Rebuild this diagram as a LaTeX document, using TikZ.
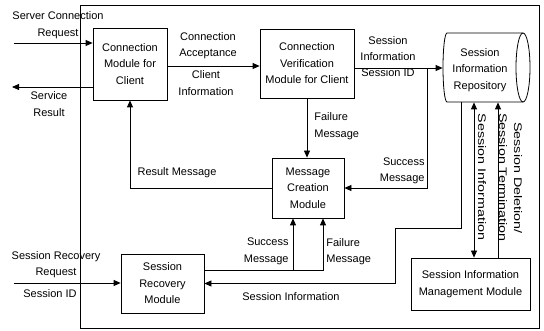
\documentclass[tikz,border=0pt]{standalone}
\usepackage{fontspec}
\setmainfont{Liberation Sans}
\usetikzlibrary{arrows.meta}
\newcommand\dfont{\fontsize{11}{16.5}\selectfont}
\begin{document}
\begin{tikzpicture}[x=1pt,y=-1pt, line width=0.8pt,
  box/.style={draw, rectangle, inner sep=0pt, align=center, font=\dfont},
  lbl/.style={inner sep=0pt, align=center, font=\dfont},
  arr/.style={-{Triangle[length=7pt,width=6pt]}},
  darr/.style={{Triangle[length=7pt,width=6pt]}-{Triangle[length=7pt,width=6pt]}}]
\useasboundingbox (0,0) rectangle (544,331);
% frame
\draw (80,5) rectangle (539,328);
% boxes
\node[box, minimum width=74pt, minimum height=72pt] (cm) at (130,64) {Connection\\Module for\\Client};
\node[box, minimum width=94pt, minimum height=69pt] (cv) at (307,63.5) {Connection\\Verification\\Module for Client};
\node[inner sep=0pt, minimum width=87pt, minimum height=69pt] (repo) at (486.5,67.5) {};
\draw (447,33) -- (523,33) (523,102) -- (447,102) arc[start angle=90, end angle=270, x radius=4, y radius=34.5];
\draw (523,67.5) ellipse[x radius=7, y radius=34.5];
\node[lbl] (repolbl) at (480,70) {Session\\Information\\Repository};
\node[box, minimum width=72pt, minimum height=60pt] (mc) at (308,188) {Message\\Creation\\Module};
\node[box, minimum width=83pt, minimum height=59pt] (sr) at (162.5,283.5) {Session\\Recovery\\Module};
\node[box, minimum width=119pt, minimum height=52pt] (simm) at (470.5,284) {Session Information\\Management Module};
% free ends
\coordinate (scr) at (14,43);
\coordinate (sres) at (12,87);
\coordinate (srr) at (14,283);
\coordinate (j1) at (427,68);
\coordinate (j2) at (293,270);
% connectors
\draw[arr] (scr) -- (scr -| cm.west);
\draw[arr] (cm.west |- sres) -- (sres);
\draw[arr] (cm.east |- 0,66) -- (cv.west |- 0,66);
\draw[arr] (cv.east |- 0,68) -- (repo.west |- 0,68);
\draw[arr] (j1) |- (mc.east);
\draw[arr] (cv.south) -- (cv.south |- mc.north);
\draw[arr] (mc.west) -| (cm.south);
\draw[arr] (srr) -- (srr -| sr.west);
\draw[arr] (sr.east |- j2) -| (mc.south -| j2);
\draw[arr] (j2) -| (mc.south -| 323,0);
\draw[arr] (repo.south -| 461,0) |- (395,228) |- (sr.east);
\draw[darr] (repo.south -| 474,0) -- (simm.north -| 474,0);
\draw[arr] (simm.north -| 498,0) -- (repo.south -| 498,0);
% labels
\node[lbl] (t1) at (58,25) {Server Connection\\Request};
\node[lbl] (t2) at (49,104) {Service\\Result};
\node[lbl] (t3) at (208,45.5) {Connection\\Acceptance};
\node[lbl] (t4) at (206,83) {Client\\Information};
\node[lbl, font=\fontsize{11}{16}\selectfont] (t5) at (388,57) {Session\\Information\\Session ID};
\node[lbl, align=left, anchor=west] (t6) at (314,126) {Failure\\Message};
\node[lbl, align=right, anchor=east] (t7) at (425,171) {Success\\Message};
\node[lbl] (t8) at (177,173) {Result Message};
\node[lbl] (t9) at (56,264.5) {Session Recovery\\Request};
\node[lbl] (t10) at (50,294) {Session ID};
\node[lbl, align=right, anchor=east] (t11) at (289,251.5) {Success\\Message};
\node[lbl, align=left, anchor=west] (t12) at (326,251.5) {Failure\\Message};
\node[lbl] (t13) at (291,297) {Session Information};
\node[lbl, rotate=-90] (t14) at (482,177) {\scalebox{1.3}[1]{Session Information}};
\node[lbl, rotate=-90] (t15) at (518,178) {\scalebox{1.3}[1]{Session Deletion/}};
\node[lbl, rotate=-90] (t16) at (503,177.5) {\scalebox{1.3}[1]{Session Termination}};
\end{tikzpicture}
\end{document}
